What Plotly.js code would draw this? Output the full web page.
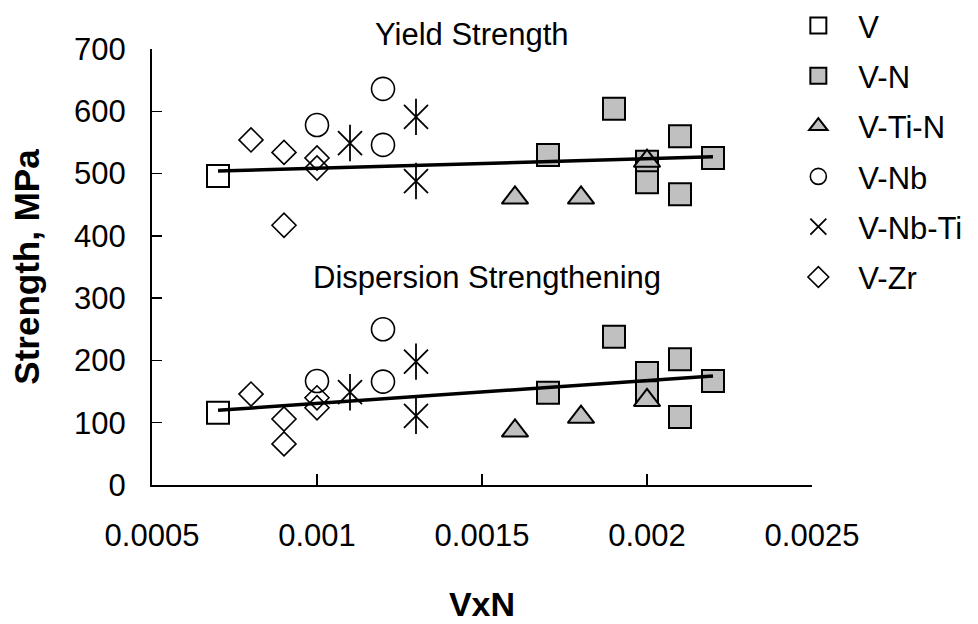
<!DOCTYPE html>
<html>
<head>
<meta charset="utf-8">
<script src="https://cdn.plot.ly/plotly-3.0.1.min.js"></script>
<style>html,body{margin:0;padding:0;background:#fff;}#chart{width:978px;height:624px;}</style>
</head>
<body>
<div id="chart"></div>
<script>
// ---- data ----
const seriesNames = ["V", "V-N", "V-Ti-N", "V-Nb", "V-Nb-Ti", "V-Zr"];

const vX = [0.0007];
const vYield = [496];
const vDisp = [116];

const vnX = [0.0017, 0.0019, 0.002, 0.002, 0.0021, 0.0021, 0.0022];
const vnYield = [530, 604, 519, 486, 560, 467, 525];
const vnDisp = [148, 238, 180, 149, 202, 109, 167];

const vtinX = [0.0016, 0.0018, 0.002];
const vtinYield = [461, 461, 520];
const vtinDisp = [87, 109, 136];

const vnbX = [0.001, 0.0012, 0.0012];
const vnbYield = [578, 636, 546];
const vnbDisp = [167, 250, 166];

const vnbtiX = [0.0011, 0.0013, 0.0013];
const vnbtiYield = [549, 591, 488];
const vnbtiDisp = [149, 198, 111];

const vzrX = [0.0008, 0.0009, 0.0009, 0.001, 0.001];
const vzrYield = [554, 534, 417, 525, 509];
const vzrDisp = [146, 106, 66, 140, 124];

const trendX = [0.0007, 0.0022];
const yieldTrend = [504, 527];
const dispTrend = [120, 175];

const xTicks = [0.0005, 0.001, 0.0015, 0.002, 0.0025];
const xTickText = ["0.0005", "0.001", "0.0015", "0.002", "0.0025"];
const yTicks = [0, 100, 200, 300, 400, 500, 600, 700];

const labelYield = "Yield Strength";
const labelDisp = "Dispersion Strengthening";

// ---- build ----
const FONT = '"Liberation Sans", Arial, sans-serif';
const GRAY = '#c0c0c0';

function pts(x, a, b) { return { x: x.concat(x), y: a.concat(b) }; }

const traces = [];
function addSeries(i, x, a, b, marker) {
  const p = pts(x, a, b);
  traces.push({
    type: 'scatter', mode: 'markers', name: seriesNames[i],
    legendgroup: 'g' + i, x: p.x, y: p.y, marker: marker, cliponaxis: false
  });
}
addSeries(0, vX, vYield, vDisp, {symbol: 'square', size: 22, color: '#ffffff', line: {color: '#000', width: 2}});
addSeries(1, vnX, vnYield, vnDisp, {symbol: 'square', size: 22, color: GRAY, line: {color: '#000', width: 2}});
addSeries(2, vtinX, vtinYield, vtinDisp, {symbol: 'triangle-up', size: 23, color: GRAY, line: {color: '#000', width: 2}});
addSeries(3, vnbX, vnbYield, vnbDisp, {symbol: 'circle-open', size: 23, color: '#000', line: {color: '#000', width: 1.6}});
addSeries(4, vnbtiX, vnbtiYield, vnbtiDisp, {symbol: 'x-thin-open', size: 24, color: '#000', line: {color: '#000', width: 1.8}});
// vertical stroke of the 6-arm star marker
(function(){
  const p = pts(vnbtiX, vnbtiYield, vnbtiDisp);
  traces.push({type: 'scatter', mode: 'markers', name: seriesNames[4], legendgroup: 'g4', showlegend: false,
    x: p.x, y: p.y, cliponaxis: false,
    marker: {symbol: 'line-ns-open', size: 26, color: '#000', line: {color: '#000', width: 1.8}}});
})();
addSeries(5, vzrX, vzrYield, vzrDisp, {symbol: 'diamond-open', size: 18.5, color: '#000', line: {color: '#000', width: 1.6}});

traces.push({type: 'scatter', mode: 'lines', x: trendX, y: yieldTrend, showlegend: false,
  line: {color: '#000', width: 3.5}, hoverinfo: 'skip'});
traces.push({type: 'scatter', mode: 'lines', x: trendX, y: dispTrend, showlegend: false,
  line: {color: '#000', width: 3.5}, hoverinfo: 'skip'});

const layout = {
  width: 978, height: 624,
  margin: {l: 152, r: 166, t: 49, b: 139, pad: 0, autoexpand: false},
  paper_bgcolor: '#fff', plot_bgcolor: '#fff',
  font: {family: FONT, size: 31, color: '#000'},
  showlegend: true,
  legend: {x: 0.949, xanchor: 'left', y: 1.115, yanchor: 'top', tracegroupgap: 7, itemwidth: 70,
    font: {family: FONT, size: 31, color: '#000'}, bgcolor: 'rgba(0,0,0,0)', borderwidth: 0},
  xaxis: {
    range: [0.0005, 0.0025], tickmode: 'array', tickvals: xTicks, ticktext: xTickText,
    showline: true, linecolor: '#000', linewidth: 2, mirror: false,
    ticks: 'inside', ticklen: 11, tickwidth: 1.5, tickcolor: '#000',
    showgrid: false, zeroline: false, ticklabelstandoff: 22,
    tickfont: {family: FONT, size: 31},
    title: {text: '<b>VxN</b>', font: {family: FONT, size: 34}, standoff: 40}
  },
  yaxis: {
    range: [0, 700], tickmode: 'array', tickvals: yTicks,
    showline: true, linecolor: '#000', linewidth: 2, mirror: false,
    ticks: 'inside', ticklen: 10, tickwidth: 1.5, tickcolor: '#000',
    showgrid: false, zeroline: false, ticklabelstandoff: 18,
    tickfont: {family: FONT, size: 31},
    title: {text: '<b>Strength, MPa</b>', font: {family: FONT, size: 35}, standoff: 24}
  },
  annotations: [
    {x: 0.00147, y: 1.034, xref: 'x', yref: 'paper', text: labelYield, showarrow: false,
      font: {family: FONT, size: 31}, xanchor: 'center', yanchor: 'middle'},
    {x: 0.001515, y: 333, xref: 'x', yref: 'y', text: labelDisp, showarrow: false,
      font: {family: FONT, size: 31}, xanchor: 'center', yanchor: 'middle'}
  ]
};

Plotly.newPlot('chart', traces, layout, {staticPlot: true, displayModeBar: false});
</script>
</body>
</html>
